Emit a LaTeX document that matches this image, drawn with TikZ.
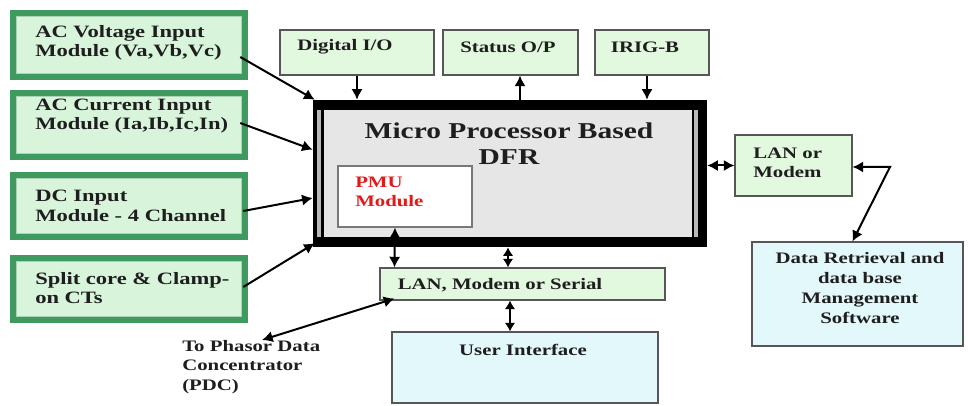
\documentclass[tikz,border=0pt]{standalone}
\usepackage{fontspec}
\setmainfont{Liberation Serif}[FakeStretch=1.3]
\usetikzlibrary{arrows.meta,calc,fit}

\definecolor{gband}{HTML}{3F9A60}
\definecolor{gfill}{HTML}{D8F4DA}
\definecolor{lgreen}{HTML}{E2F8DF}
\definecolor{lcyan}{HTML}{E2F8FB}
\definecolor{dfrgray}{HTML}{E6E6E6}
\definecolor{ink}{HTML}{1E1E1E}
\definecolor{pmured}{HTML}{E31A1A}

\begin{document}
\begin{tikzpicture}[x=0.75pt,y=-0.75pt,
  box/.style={inner sep=0, draw=ink!75, line width=0.8pt},
  greenbox/.style={box, fill=lgreen},
  cyanbox/.style={box, fill=lcyan},
  modbox/.style={inner sep=0, fill=gband,
    path picture={
      \fill[gfill] ([shift={(5.2pt,-5.2pt)}]path picture bounding box.north west)
        rectangle ([shift={(-5.2pt,5.2pt)}]path picture bounding box.south east);
      \draw[gband!45!white, line width=0.7pt]
        ([shift={(5.2pt,-5.2pt)}]path picture bounding box.north west)
        rectangle ([shift={(-5.2pt,5.2pt)}]path picture bounding box.south east);
    }},
  txt/.style={font=\bfseries\fontsize{12}{14.6}\selectfont, text=ink, inner sep=0},
  modtxt/.style={txt, font=\bfseries\fontsize{13}{14.5}\selectfont, anchor=west, align=left},
  tip/.tip={Latex[length=8pt,width=8.5pt]},
  smalltip/.tip={Latex[length=6.5pt,width=8pt]},
  arr/.style={line width=1.5pt, -tip},
  darr/.style={line width=1.5pt, tip-tip},
  sdarr/.style={line width=1.5pt, smalltip-smalltip}
]
\useasboundingbox (0,0) rectangle (968,406);

% input modules on the left
\node[modbox, fit={(10,10)(248,80)}]   (m1) {};
\node[modbox, fit={(10,90)(248,160)}]  (m2) {};
\node[modbox, fit={(10,172)(248,240)}] (m3) {};
\node[modbox, fit={(10,255)(248,323)}] (m4) {};
\node[modtxt] (t1) at (35,43)  {AC Voltage Input\\Module (Va,Vb,Vc)};
\node[modtxt] (t2) at (35,116) {AC Current Input\\Module (Ia,Ib,Ic,In)};
\node[modtxt] (t3) at (35,206) {DC Input\\Module - 4 Channel};
\node[modtxt] (t4) at (35,288) {Split core \& Clamp-\\on CTs};

% top I/O boxes
\node[greenbox, fit={(280,30)(434,75)}] (dio)  {};
\node[greenbox, fit={(443,30)(578,75)}] (sop)  {};
\node[greenbox, fit={(595,30)(709,75)}] (irig) {};
\node[txt] (tdio)  at (345,47) {Digital I/O};
\node[txt] (tsop)  at (508,47) {Status O/P};
\node[txt] (tirig) at (645,47) {IRIG-B};

% main recorder block with heavy frame
\node[fit={(313,100)(707,247)}, inner sep=0, fill=black] (dfr) {};
\fill[gray!55] (317,110) rectangle (321,237);
\fill[gray!55] (694,110) rectangle (698,237);
\fill[dfrgray] (324,110) rectangle (692,237);
\node[txt, font=\bfseries\fontsize{17}{20}\selectfont, align=center] (tdfr) at (509,143.5)
  {Micro Processor Based\\DFR};

% PMU module inside
\node[fit={(338,166)(472,227)}, inner sep=0, fill=white, draw=ink!60, line width=0.8pt] (pmu) {};
\node[txt, text=pmured, anchor=west, align=left] (tpmu) at (355,192) {PMU\\Module};

% communication boxes
\node[greenbox, fit={(735,135)(852,196)}] (lan) {};
\node[txt, anchor=west, align=left] (tlan) at (753,163) {LAN or\\Modem};
\node[cyanbox, fit={(752,242)(963,346)}] (drs) {};
\node[txt, align=center, font=\bfseries\fontsize{12}{15}\selectfont] (tdrs) at (860,288)
  {Data Retrieval and\\data base\\Management\\Software};
\node[greenbox, fit={(380,268)(665,300)}] (lms) {};
\node[txt] (tlms) at (500,285) {LAN, Modem or Serial};
\node[cyanbox, fit={(392,332)(658,403)}] (ui) {};
\node[txt] (tui) at (523,350) {User Interface};
\node[txt, anchor=west, align=left] (tpdc) at (182,367) {To Phasor Data\\Concentrator\\(PDC)};

% module inputs
\draw[arr] ($(m1.east)+(-8,12)$) -- ($(dfr.north west)+(2,0)$);
\draw[arr] ($(m2.east)+(-8,-2)$) -- ($(dfr.north west)+(0,50)$);
\draw[arr] ($(m3.east)+(-5,5)$)  -- ($(dfr.west)+(0,24.5)$);
\draw[arr] ($(m4.east)+(-5,-2)$) -- ($(dfr.south west)+(2,-4)$);

% top connections
\draw[arr] (dio.south) -- (dio.south |- dfr.north);
\draw[arr] ($(dfr.north)+(10,0)$) -- ($(sop.south)+(9.5,0)$);
\draw[arr] ($(irig.south)+(-5,0)$) -- ($(dfr.north)+(137,0)$);

% right side links
\draw[darr] (dfr.east |- lan.west) -- (lan.west);
\coordinate (kink) at (890,167);
\draw[darr] ($(lan.east)+(0,1.5)$) -- (kink) -- ($(drs.north)+(-5,0)$);

% bottom links
\draw[darr] ($(pmu.south)+(-10,0)$) -- ($(lms.north west)+(15,0)$);
\draw[sdarr] ($(dfr.south)+(-2,0)$) -- ($(lms.north)+(-14.5,0)$);
\draw[sdarr] ($(lms.south)+(-12.5,0)$) -- ($(ui.north)+(-15,0)$);
\coordinate (pdcend) at (262,340);
\draw[darr] ($(lms.south west)+(15,-2)$) -- (pdcend);
\end{tikzpicture}
\end{document}
